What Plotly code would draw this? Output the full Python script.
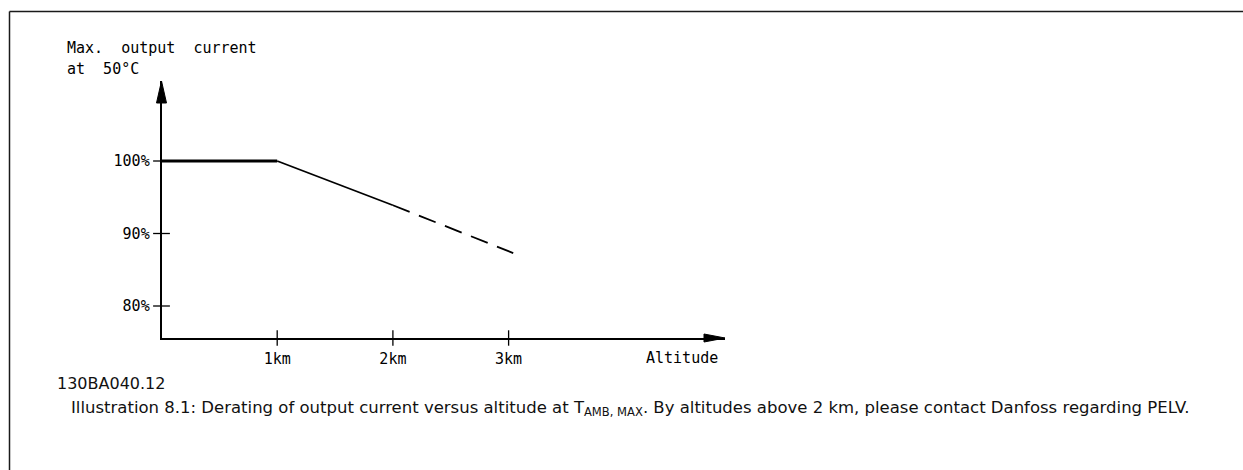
import plotly.graph_objects as go

W, H = 1243, 470

# data
flat_km = [0, 1]
flat_pct = [100, 100]
slope_km = [1, 2]
slope_pct = [100, 93.9]
dash_km = [2, 3.04]
dash_pct = [93.9, 87.3]

x_ticks = [1, 2, 3]
x_labels = ["1km", "2km", "3km"]
y_ticks = [80, 90, 100]
y_labels = ["80%", "90%", "100%"]

CAD = "DejaVu Sans Mono"
SANS = "DejaVu Sans"


def px(p):
    return p / W


def py(r):
    return 1 - r / H


# plot box in pixels: y-axis at x=161.5, x-axis at y=338, arrow tips at 725 / 81
X_DOM = [px(161.5), px(725)]
Y_DOM = [py(338), py(81)]
X_RANGE = [0, (725 - 161.5) / 115.7]
Y_RANGE = [100 - (338 - 161) / 7.25, 100 + (161 - 81) / 7.25]

fig = go.Figure()
fig.add_trace(go.Scatter(x=flat_km, y=flat_pct, mode="lines",
                         line=dict(color="black", width=3.2)))
fig.add_trace(go.Scatter(x=slope_km, y=slope_pct, mode="lines",
                         line=dict(color="black", width=1.8)))
fig.add_trace(go.Scatter(x=dash_km, y=dash_pct, mode="lines",
                         line=dict(color="black", width=1.8, dash="18px,10px")))

# tick marks crossing the axes
fig.add_trace(go.Scatter(x=x_ticks, y=[Y_RANGE[0]] * len(x_ticks), mode="markers",
                         marker=dict(symbol="line-ns", size=11,
                                     line=dict(color="black", width=1.3)),
                         cliponaxis=False, hoverinfo="skip"))
fig.add_trace(go.Scatter(x=[0] * len(y_ticks), y=y_ticks, mode="markers",
                         marker=dict(symbol="line-ew", size=12,
                                     line=dict(color="black", width=1.3)),
                         cliponaxis=False, hoverinfo="skip"))

axis_common = dict(showgrid=False, zeroline=False, showline=True,
                   linecolor="black", linewidth=1.6, ticks="",
                   tickmode="array", fixedrange=True)

fig.update_layout(
    width=W, height=H,
    template="none",
    showlegend=False,
    paper_bgcolor="white",
    plot_bgcolor="rgba(0,0,0,0)",
    margin=dict(l=0, r=0, t=0, b=0),
    font=dict(family=CAD, size=15, color="black"),
    xaxis=dict(domain=X_DOM, range=X_RANGE, anchor="y",
               tickvals=x_ticks, ticktext=x_labels,
               tickfont=dict(family=CAD, size=15, color="black"),
               ticklabelstandoff=6, **axis_common),
    yaxis=dict(domain=Y_DOM, range=Y_RANGE, anchor="x",
               tickvals=y_ticks, ticktext=y_labels,
               tickfont=dict(family=CAD, size=15, color="black"),
               ticklabelstandoff=7, **axis_common),
)

# arrow heads on the axes (paper refs so they are not clipped)
fig.add_shape(type="path", xref="paper", yref="paper", xsizemode="pixel",
              ysizemode="pixel", xanchor=X_DOM[0], yanchor=Y_DOM[1],
              path="M 0 0 L -5 -22 L 5 -22 Z", fillcolor="black",
              line=dict(color="black", width=1))
fig.add_shape(type="path", xref="paper", yref="paper", xsizemode="pixel",
              ysizemode="pixel", xanchor=X_DOM[1], yanchor=Y_DOM[0],
              path="M 0 0 L -21 -4 L -21 4 Z", fillcolor="black",
              line=dict(color="black", width=1))

# frame of the page
fig.add_shape(type="line", xref="paper", yref="paper",
              x0=px(9.5), x1=1, y0=py(11.5), y1=py(11.5),
              line=dict(color="#1a1a1a", width=1.5))
fig.add_shape(type="line", xref="paper", yref="paper",
              x0=px(9.5), x1=px(9.5), y0=py(11.5), y1=0,
              line=dict(color="#1a1a1a", width=1.5))

texts = [
    ("Max.  output  current", 65, 48, CAD, 15, "left", "black"),
    ("at  50°C", 65, 69, CAD, 15, "left", "black"),
    ("Altitude", 720, 358, CAD, 15, "right", "black"),
    ("130BA040.12", 55, 383, SANS, 16, "left", "#111"),
    ("Illustration 8.1: Derating of output current versus altitude at T<sub>AMB, MAX</sub>. "
     "By altitudes above 2 km, please contact Danfoss regarding PELV.",
     69, 408, SANS, 16.5, "left", "#111"),
]
for txt, x, y, fam, size, anchor, col in texts:
    fig.add_annotation(text=txt, xref="paper", yref="paper", x=px(x), y=py(y),
                       xanchor=anchor, yanchor="middle", showarrow=False,
                       font=dict(family=fam, size=size, color=col))

fig.write_html("out.html", config={"displayModeBar": False},
               post_script="document.body.style.margin='0';")
